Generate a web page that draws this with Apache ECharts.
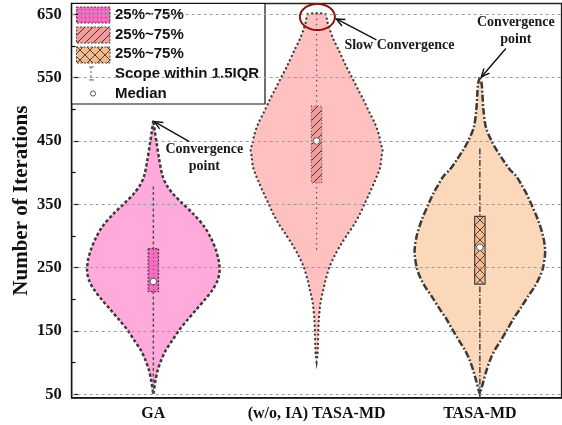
<!DOCTYPE html>
<html>
<head>
<meta charset="utf-8">
<script src="https://cdn.jsdelivr.net/npm/echarts@6/dist/echarts.min.js"></script>
<style>
  html, body { margin: 0; padding: 0; background: #fff; }
  #chart { width: 562px; height: 425px; }
</style>
</head>
<body>
<div id="chart"></div>
<script>
// ---- data ----
const categories = ['GA', '(w/o, IA) TASA-MD', 'TASA-MD'];
const yTickLabels = [50, 150, 250, 350, 450, 550, 650];
const yMinorTicks = [100, 200, 300, 400, 500, 600];

// violin outlines: iteration level and relative density (1 = widest)
const gaLevels = [482, 465, 446, 420, 394, 380, 367, 351, 335, 315, 296, 278, 262, 245, 230, 215, 200, 183, 167, 151.5, 135, 120, 104, 88, 70, 50];
const gaDensity = [0, 0.023, 0.051, 0.09, 0.141, 0.203, 0.292, 0.442, 0.602, 0.767, 0.872, 0.943, 0.985, 1.0, 0.97, 0.893, 0.782, 0.642, 0.511, 0.391, 0.286, 0.191, 0.12, 0.066, 0.03, 0];

const woiaLevels = [650, 640, 628, 610, 594, 570, 552, 530, 515, 495, 478, 460, 446, 436, 425, 410, 399, 385, 367, 350, 335, 320, 305, 288, 270, 250, 230, 215, 200, 188, 170, 151, 125, 110, 101.5];
const woiaDensity = [0.135, 0.158, 0.191, 0.256, 0.331, 0.436, 0.526, 0.632, 0.707, 0.797, 0.878, 0.94, 0.968, 0.995, 0.98, 0.962, 0.928, 0.872, 0.797, 0.722, 0.654, 0.577, 0.481, 0.376, 0.278, 0.191, 0.135, 0.101, 0.068, 0.051, 0.035, 0.026, 0.02, 0.012, 0];

const tasaLevels = [551, 540, 525, 500, 472, 450, 435, 420, 405, 394, 380, 367, 350, 325, 300, 276, 250, 235, 220, 205, 188, 170, 150, 135, 120, 105, 88, 70, 50];
const tasaDensity = [0, 0.027, 0.038, 0.053, 0.09, 0.176, 0.256, 0.35, 0.451, 0.552, 0.632, 0.702, 0.777, 0.878, 0.953, 0.985, 0.953, 0.902, 0.827, 0.729, 0.627, 0.511, 0.402, 0.316, 0.226, 0.158, 0.101, 0.053, 0];

// box statistics
const q1 = [212, 384, 224];
const q3 = [280, 505, 331];
const medians = [228, 450, 282];
const whiskerLow = [50, 276, 50];
const whiskerHigh = [378, 650, 438];

const profiles = [
  { levels: gaLevels, density: gaDensity },
  { levels: woiaLevels, density: woiaDensity },
  { levels: tasaLevels, density: tasaDensity }
];

// ---- fill patterns ----
function makePattern(bg, size, draw) {
  const c = document.createElement('canvas');
  c.width = size; c.height = size;
  const g = c.getContext('2d');
  g.fillStyle = bg;
  g.fillRect(0, 0, size, size);
  draw(g, size);
  return { image: c, repeat: 'repeat' };
}
function dots(bg, fg) {
  return makePattern(bg, 4, (g) => {
    g.fillStyle = fg;
    g.fillRect(1, 1, 1, 1);
  });
}
function hatch(bg, fg) {
  return makePattern(bg, 8, (g, s) => {
    g.strokeStyle = fg; g.lineWidth = 1;
    g.beginPath();
    g.moveTo(0, s); g.lineTo(s, 0);
    g.moveTo(-1, 1); g.lineTo(1, -1);
    g.moveTo(s - 1, s + 1); g.lineTo(s + 1, s - 1);
    g.stroke();
  });
}
function crossHatch(bg, fg) {
  return makePattern(bg, 10, (g, s) => {
    g.strokeStyle = fg; g.lineWidth = 1;
    g.beginPath();
    g.moveTo(0, s); g.lineTo(s, 0);
    g.moveTo(0, 0); g.lineTo(s, s);
    g.stroke();
  });
}

const styles = [
  { fill: '#ffaadb', stroke: '#3a3a3a', dash: [3.2, 2.2], cap: 'butt', width: 2.5,
    box: dots('#f46cc2', '#a8306e'), boxStroke: '#444', boxDash: [2, 1.5],
    whiskerDash: [3, 2.5], whiskerCap: 'butt', whiskerColor: '#555' },
  { fill: '#ffc0c0', stroke: '#3a3a3a', dash: [0.1, 4.4], cap: 'round', width: 2.3,
    box: hatch('#f59a98', '#3a3a3a'), boxStroke: '#555', boxDash: [0.1, 3],
    whiskerDash: [0.1, 5], whiskerCap: 'round', whiskerColor: '#555' },
  { fill: '#fbd8ba', stroke: '#3a3a3a', dash: [7, 2.2, 1.8, 2.2], cap: 'butt', width: 2.5,
    box: crossHatch('#f6b98a', '#444'), boxStroke: '#444', boxDash: null,
    whiskerDash: [6, 2, 1.5, 2], whiskerCap: 'butt', whiskerColor: '#444' }
];

const MAX_HALF = 0.406;   // widest half-width, as a share of the category band
const BOX_HALF = 0.032;

function renderViolin(params, api) {
  const ci = api.value(0);
  const st = styles[ci];
  const band = api.size([1, 0])[0];
  const prof = profiles[ci];
  const left = [], right = [];
  for (let i = 0; i < prof.levels.length; i++) {
    const p = api.coord([ci, prof.levels[i]]);
    const hw = prof.density[i] * MAX_HALF * band;
    left.push([p[0] - hw, p[1]]);
    right.push([p[0] + hw, p[1]]);
  }
  const pts = left.concat(right.reverse());
  const c = api.coord([ci, medians[ci]]);
  const top = api.coord([ci, q3[ci]]);
  const bot = api.coord([ci, q1[ci]]);
  const wTop = api.coord([ci, whiskerHigh[ci]]);
  const wBot = api.coord([ci, whiskerLow[ci]]);
  const bw = BOX_HALF * band;
  return {
    type: 'group',
    children: [
      { type: 'polygon', shape: { points: pts, smooth: 0.3 },
        style: { fill: st.fill, stroke: st.stroke, lineWidth: st.width, lineDash: st.dash, lineCap: st.cap } },
      { type: 'line', shape: { x1: wTop[0], y1: wTop[1], x2: wBot[0], y2: wBot[1] },
        style: { stroke: st.whiskerColor, lineWidth: 1.5, lineDash: st.whiskerDash, lineCap: st.whiskerCap } },
      { type: 'rect', shape: { x: top[0] - bw, y: top[1], width: 2 * bw, height: bot[1] - top[1] },
        style: { fill: st.box, stroke: st.boxStroke, lineWidth: 1.2, lineDash: st.boxDash, lineCap: st.whiskerCap } },
      { type: 'circle', shape: { cx: c[0], cy: c[1], r: 3.3 },
        style: { fill: '#fff', stroke: '#555', lineWidth: 1 } }
    ]
  };
}

// ---- annotations ----
function arrow(tip, tail) {
  const ang = Math.atan2(tail[1] - tip[1], tail[0] - tip[0]);
  const L = 9, a = 0.42;
  const h1 = [tip[0] + L * Math.cos(ang + a), tip[1] + L * Math.sin(ang + a)];
  const h2 = [tip[0] + L * Math.cos(ang - a), tip[1] + L * Math.sin(ang - a)];
  return [
    { type: 'line', shape: { x1: tail[0], y1: tail[1], x2: tip[0], y2: tip[1] },
      style: { stroke: '#111', lineWidth: 1.4 } },
    { type: 'polyline', shape: { points: [h1, tip, h2] },
      style: { stroke: '#111', lineWidth: 1.4, fill: null } }
  ];
}
function note(text, x, y) {
  return { type: 'text', x: x, y: y,
    style: { text: text, fill: '#1a1a1a', font: 'bold 14px "Liberation Serif", serif',
      align: 'center', verticalAlign: 'middle' } };
}
function renderNotes(params, api) {
  const children = [];
  // GA peak
  const g = api.coord([0, gaLevels[0]]);
  const gTip = [g[0] + 1, g[1] + 1];
  children.push(...arrow(gTip, [gTip[0] + 35, gTip[1] + 20]));
  children.push(note('Convergence', gTip[0] + 50, gTip[1] + 28));
  children.push(note('point', gTip[0] + 50, gTip[1] + 45));
  // slow convergence ring
  const w = api.coord([1, woiaLevels[0]]);
  const cx = w[0] + 0.8, cy = w[1] + 2.7, rx = 17.5, ry = 13;
  const ring = [];
  for (let k = 0; k < 64; k++) {
    const t = k / 64 * Math.PI * 2;
    ring.push([cx + rx * Math.cos(t), cy + ry * Math.sin(t)]);
  }
  children.push({ type: 'polygon', shape: { points: ring },
    style: { fill: null, stroke: '#8e1414', lineWidth: 2 } });
  children.push(...arrow([cx + 19, cy + 2], [cx + 59, cy + 23]));
  children.push(note('Slow Convergence', cx + 82, cy + 28.7));
  // TASA-MD peak
  const t = api.coord([2, tasaLevels[0]]);
  const tTip = [t[0] + 1.5, t[1]];
  children.push(...arrow(tTip, [tTip[0] + 24.5, tTip[1] - 28.5]));
  children.push(note('Convergence', tTip[0] + 34.5, tTip[1] - 55));
  children.push(note('point', tTip[0] + 34.5, tTip[1] - 37.7));
  return { type: 'group', children: children };
}

// ---- legend ----
const legendFont = 'bold 15px "Liberation Sans", Arial, sans-serif';
const legendLabels = ['25%~75%', '25%~75%', '25%~75%', 'Scope within 1.5IQR', 'Median'];
const legendItems = [];
legendItems.push({ type: 'rect', shape: { x: 71.5, y: 3.5, width: 193.5, height: 100.5 },
  style: { fill: '#fff', stroke: '#111', lineWidth: 1.2 } });
[styles[0].box, styles[1].box, styles[2].box].forEach((f, i) => {
  legendItems.push({ type: 'rect', shape: { x: 76.5, y: 7 + i * 20, width: 33.5, height: 16 },
    style: { fill: f, stroke: '#444', lineWidth: 1, lineDash: [2, 1.5] } });
});
legendItems.push({ type: 'line', shape: { x1: 91, y1: 67, x2: 91, y2: 80 },
  style: { stroke: '#666', lineWidth: 1, lineDash: [2, 2] } });
legendItems.push({ type: 'line', shape: { x1: 89, y1: 67, x2: 94, y2: 67 },
  style: { stroke: '#666', lineWidth: 1 } });
legendItems.push({ type: 'line', shape: { x1: 89, y1: 80, x2: 94, y2: 80 },
  style: { stroke: '#666', lineWidth: 1 } });
legendItems.push({ type: 'circle', shape: { cx: 93, cy: 93.5, r: 2.6 },
  style: { fill: '#fff', stroke: '#555', lineWidth: 1 } });
legendLabels.forEach((s, i) => {
  legendItems.push({ type: 'text', x: 115, y: 15 + i * 19.6,
    style: { text: s, font: legendFont, fill: '#111', verticalAlign: 'middle', align: 'left' } });
});

const chart = echarts.init(document.getElementById('chart'), null, { renderer: 'canvas' });
const serif = '"Liberation Serif", "Times New Roman", serif';

chart.setOption({
  animation: false,
  grid: { left: 71.7, right: 0.5, top: 3.5, bottom: 27.3, show: true, outerBoundsMode: 'none',
    borderColor: '#222', borderWidth: 1.3, backgroundColor: 'transparent' },
  xAxis: {
    type: 'category', data: categories,
    axisLine: { lineStyle: { color: '#111', width: 1.6 } },
    axisTick: { inside: true, length: 5, alignWithLabel: true, lineStyle: { color: '#111', width: 1.2 } },
    axisLabel: { margin: 8, interval: 0, hideOverlap: false, fontFamily: serif, fontWeight: 'bold', fontSize: 16, color: '#111' },
    splitLine: { show: false }
  },
  yAxis: [{
    type: 'value', min: 44.6, max: 667,
    name: 'Number of Iterations', nameLocation: 'middle', nameGap: 40, nameMoveOverlap: false,
    nameTextStyle: { fontFamily: serif, fontWeight: 'bold', fontSize: 21, color: '#111' },
    axisLine: { show: true, lineStyle: { color: '#111', width: 1.4 } },
    axisTick: { show: true, inside: true, length: 7, customValues: yTickLabels, lineStyle: { color: '#111', width: 1.2 } },
    axisLabel: { margin: 10, customValues: yTickLabels, fontFamily: serif, fontWeight: 'bold', fontSize: 16.5, color: '#111' },
    splitLine: { show: false }
  }, {
    type: 'value', min: 44.6, max: 667, position: 'left',
    axisLine: { show: false },
    axisTick: { show: true, inside: true, length: 4, customValues: yMinorTicks, lineStyle: { color: '#111', width: 1.2 } },
    axisLabel: { show: false },
    splitLine: { show: false }
  }],
  series: [
    {
      type: 'line', data: [], z: 1, silent: true,
      markLine: {
        silent: true, symbol: ['none', 'none'], label: { show: false },
        lineStyle: { type: [3, 3], color: '#9c9c9c', width: 1 },
        data: yTickLabels.map(v => ({ yAxis: v }))
      }
    },
    ...categories.map((c, i) => ({
      type: 'custom', name: c, z: 2, data: [[i]], encode: { x: 0 },
      renderItem: renderViolin
    })),
    { type: 'custom', z: 5, data: [[0]], encode: { x: 0 }, renderItem: renderNotes, silent: true }
  ],
  graphic: [{ type: 'group', z: 20, children: legendItems }]
});
</script>
</body>
</html>
